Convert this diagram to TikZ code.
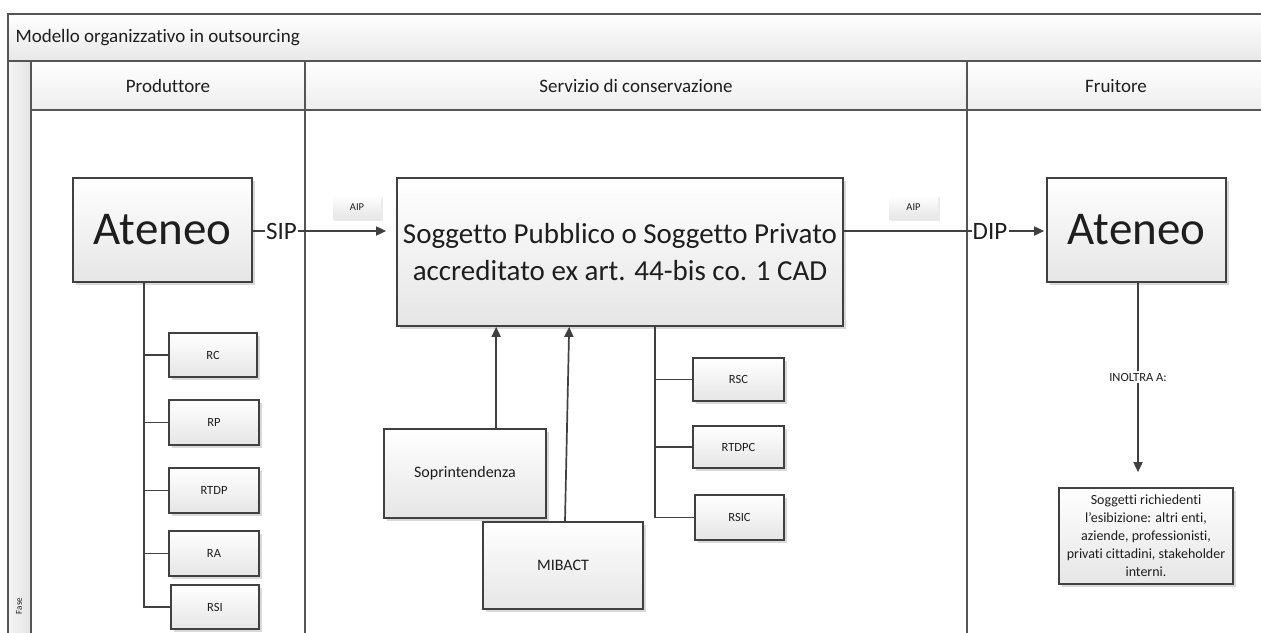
\documentclass[tikz,border=0pt]{standalone}
\usepackage{fontspec}
\setmainfont{Carlito}[Ligatures=NoCommon]
\usetikzlibrary{arrows.meta,shadows,calc}

\definecolor{linegray}{HTML}{404040}
\definecolor{framegray}{HTML}{555555}
\definecolor{inkcol}{HTML}{1E1E1E}

\tikzset{
  frame/.style={draw=framegray, line width=1.5pt},
  box/.style={draw=linegray, line width=1.7pt, top color=white, bottom color=black!10,
    drop shadow={shadow xshift=2.5pt, shadow yshift=-2.5pt, fill=black, opacity=.15},
    align=center, inner sep=2pt, text=inkcol},
  smallbox/.style={box, font=\fontsize{12.5}{14}\selectfont},
  midbox/.style={box, font=\fontsize{16}{19}\selectfont},
  tagbox/.style={top color=white, bottom color=black!10, inner sep=0pt,
    drop shadow={shadow xshift=1.5pt, shadow yshift=-1.5pt, fill=black, opacity=.08},
    font=\fontsize{10.5}{12}\selectfont, text=inkcol},
  conn/.style={draw=linegray, line width=1.7pt},
  arr/.style={-{Triangle[length=10pt,width=9pt]}},
  flowlabel/.style={inner sep=1pt, font=\fontsize{25}{28}\selectfont, text=inkcol},
  head/.style={font=\fontsize{19}{22}\selectfont, text=inkcol},
}

\begin{document}
\begin{tikzpicture}[x=1pt,y=-1pt]
\useasboundingbox (0,0) rectangle (1261,632);

% pool frame: title band, phase strip and lane headers
\shade[top color=white, bottom color=black!9] (8,14) rectangle (1270,61);
\shade[left color=black!4, right color=black!11] (8,61) rectangle (31,640);
\shade[top color=white, bottom color=black!7] (31,61) rectangle (1270,110);
\draw[frame] (1270,14) -- (8,14) -- (8,640);
\draw[frame] (8,61) -- (1270,61);
\draw[frame] (31,61) -- (31,640);
\draw[frame] (31,110) -- (1270,110);
\draw[frame] (305,61) -- (305,640);
\draw[frame] (967,61) -- (967,640);

\node[head, anchor=west] (title) at (12,38) {Modello organizzativo in outsourcing};
\node[head] (hprod) at (168,86) {Produttore};
\node[head] (hserv) at (636,86) {Servizio di conservazione};
\node[head] (hfrui) at (1116,86) {Fruitore};
\node[rotate=90, font=\fontsize{9}{10}\selectfont, text=inkcol] (fase) at (19,606) {Fase};

% main actors
\node[box, minimum width=179, minimum height=104, font=\fontsize{47}{56}\selectfont]
  (ateneoL) at (162.5,230) {Ateneo};
\node[box, minimum width=446, minimum height=148, font=\fontsize{29}{37}\selectfont]
  (central) at (620,252) {Soggetto Pubblico o Soggetto Privato\\accreditato ex art. 44-bis co. 1 CAD};
\node[box, minimum width=179, minimum height=104, font=\fontsize{47}{56}\selectfont]
  (ateneoR) at (1136.5,230) {Ateneo};

% package tags
\node[tagbox, minimum width=48, minimum height=24] (aip1) at (357,207) {AIP};
\node[tagbox, minimum width=49, minimum height=24] (aip2) at (913.5,207) {AIP};

% producer roles
\node[smallbox, minimum width=88, minimum height=44] (rc) at (213,355) {RC};
\node[smallbox, minimum width=90, minimum height=45] (rp) at (214,422.5) {RP};
\node[smallbox, minimum width=90, minimum height=45] (rtdp) at (214,490.5) {RTDP};
\node[smallbox, minimum width=90, minimum height=45] (ra) at (214,553.5) {RA};
\node[smallbox, minimum width=88, minimum height=44] (rsi) at (215,607) {RSI};

% supervising bodies
\node[midbox, minimum width=162, minimum height=89] (sopr) at (465,473.5) {Soprintendenza};
\node[midbox, minimum width=160, minimum height=87] (mibact) at (563,565.5) {MIBACT};

% service roles
\node[smallbox, minimum width=91, minimum height=43] (rsc) at (738.5,379.5) {RSC};
\node[smallbox, minimum width=91, minimum height=42] (rtdpc) at (738.5,447) {RTDPC};
\node[smallbox, minimum width=89, minimum height=45] (rsic) at (739.5,517.5) {RSIC};

% requesting parties
\node[box, minimum width=174, minimum height=96, inner sep=1pt,
  font=\fontsize{14}{18}\selectfont] (sogg) at (1146,536)
  {Soggetti richiedenti\\l’esibizione: altri enti,\\aziende, professionisti,\\privati cittadini, stakeholder\\interni.};

% SIP and DIP flows
\node[flowlabel] (sip) at (281.5,231) {SIP};
\draw[conn] (sip.west -| ateneoL.east) -- (sip.west);
\draw[conn, arr, shorten >=10pt] (sip.east) -- (sip.east -| central.west);
\node[flowlabel] (dip) at (990,231) {DIP};
\draw[conn] (dip.west -| central.east) -- (dip.west);
\draw[conn, arr, shorten >=2pt] (dip.east) -- (dip.east -| ateneoR.west);

% producer role tree
\coordinate (lt) at ($(ateneoL.south west)+(72,0)$);
\draw[conn] (lt) |- (rsi.west);
\foreach \r in {rc,rp,rtdp,ra} \draw[conn] (lt |- \r.west) -- (\r.west);

% service role tree
\coordinate (rt) at ($(central.south west)+(259,0)$);
\draw[conn] (rt) |- (rsic.west);
\foreach \r in {rsc,rtdpc} \draw[conn] (rt |- \r.west) -- (\r.west);

% oversight arrows
\coordinate (sa) at ($(sopr.north west)+(113,0)$);
\draw[conn, arr] (sa) -- (sa |- central.south);
\coordinate (ma) at ($(mibact.north)+(2,0)$);
\coordinate (mt) at ($(central.south west)+(173,0)$);
\draw[conn, arr] (ma) -- (mt);

% forwarding
\node[inner sep=2pt, fill=white, font=\fontsize{12.5}{14}\selectfont, text=inkcol]
  (inoltra) at (1138,377) {INOLTRA A:};
\draw[conn] (ateneoR.south -| inoltra) -- (inoltra.north);
\draw[conn, arr, shorten >=15pt] (inoltra.south) -- (inoltra.south |- sogg.north);
\end{tikzpicture}
\end{document}
